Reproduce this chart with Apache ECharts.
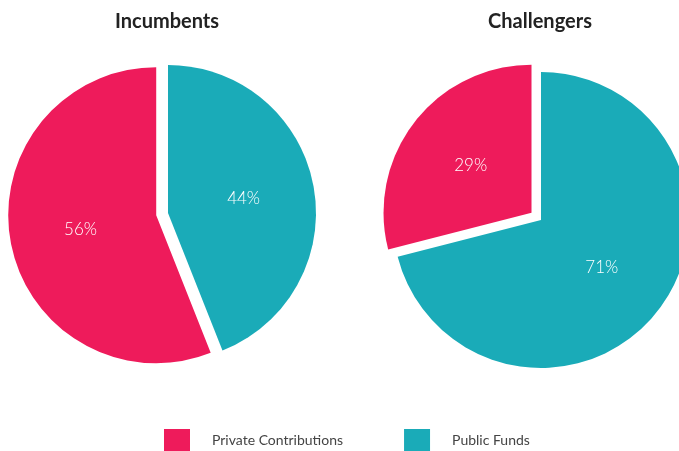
<!DOCTYPE html>
<html>
<head>
<meta charset="utf-8">
<script src="https://cdn.jsdelivr.net/npm/echarts@6/dist/echarts.min.js"></script>
<style>
  html, body { margin: 0; padding: 0; background: #fff; }
  #chart { width: 679px; height: 451px; }
</style>
</head>
<body>
<div id="chart"></div>
<script>
  // values, in percent
  const categories = ['Private Contributions', 'Public Funds']
  const groups = ['Incumbents', 'Challengers']
  const incumbents = [56, 44]
  const challengers = [29, 71]
  const colors = ['#ee1b5b', '#1aabb8']

  const centers = [[168, 213], [541, 220]]
  const titleX = [162, 535]

  function pieSeries (name, values, center) {
    return {
      name: name,
      type: 'pie',
      center: center,
      radius: 148,
      startAngle: 90,
      clockwise: false,
      selectedMode: 'single',
      selectedOffset: 12,
      emphasis: { scale: false },
      label: {
        position: 'inside',
        color: '#fff',
        fontFamily: 'Lato',
        fontWeight: 300,
        fontSize: 17,
        formatter: p => p.value + '%'
      },
      labelLine: { show: false },
      data: categories.map((c, i) => ({
        name: c,
        value: values[i],
        selected: i === 0,
        itemStyle: { color: colors[i] }
      }))
    }
  }

  const option = {
    animation: false,
    color: colors,
    title: groups.map((g, i) => ({
      text: g,
      left: titleX[i],
      top: 7,
      textAlign: 'center',
      textStyle: { fontFamily: 'Lato', fontWeight: 'bold', fontSize: 20, color: '#222' }
    })),
    legend: {
      data: categories,
      top: 424,
      left: 159,
      icon: 'rect',
      itemWidth: 26,
      itemHeight: 22,
      itemGap: 61,
      textStyle: {
        fontFamily: 'Lato',
        fontSize: 14,
        color: '#444',
        padding: [0, 0, 0, 17]
      }
    },
    series: [
      pieSeries(groups[0], incumbents, centers[0]),
      pieSeries(groups[1], challengers, centers[1])
    ]
  }

  let dom = echarts.init(document.getElementById('chart'))
  dom.setOption(option)
</script>
</body>
</html>
